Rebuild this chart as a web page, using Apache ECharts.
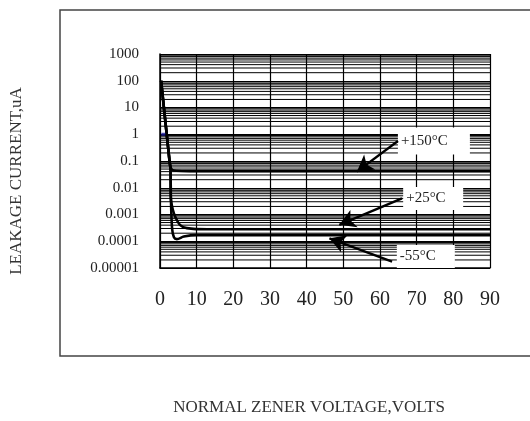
<!DOCTYPE html>
<html>
<head>
<meta charset="utf-8">
<script src="https://cdn.jsdelivr.net/npm/echarts@6/dist/echarts.min.js"></script>
<style>
  html, body { margin: 0; padding: 0; background: #fff; }
  #main { width: 530px; height: 421px; }
</style>
</head>
<body>
<div id="main"></div>
<script>
// x ticks (volts) and y ticks (uA, log scale)
const xTicks = [0, 10, 20, 30, 40, 50, 60, 70, 80, 90];
const yTickLabels = ['0.00001', '0.0001', '0.001', '0.01', '0.1', '1', '10', '100', '1000'];

// leakage current curves [volts, uA]
const curve150 = [[0.3, 100], [2.6, 0.1], [2.9, 0.058], [3.4, 0.046], [4.5, 0.043], [8, 0.042], [90, 0.042]];
const curve25 = [[0.3, 100], [2.6, 0.1], [2.85, 0.05], [2.95, 0.004], [3.5, 0.0015], [4.2, 0.0008], [5.5, 0.0004], [7.3, 0.00031], [13, 0.00028], [90, 0.00028]];
const curveM55 = [[0.3, 100], [2.6, 0.1], [2.85, 0.05], [3.0, 0.003], [3.3, 0.0003], [3.8, 0.00014], [4.6, 0.00012], [6.5, 0.00015], [10, 0.00017], [90, 0.00017]];
const stray = [[0.9, 1]];

// annotation labels: [label, box at, arrow from, arrow to]
const notes = [
  ['+150°C', [74.7, 0.56], [64.9, 0.56], [53.7, 0.04]],
  ['+25°C', [74.5, 0.004], [66, 0.004], [48.9, 0.00041]],
  ['-55°C', [72.5, 0.000027], [63.3, 0.0000173], [46.2, 0.000129]]
];
const boxSizes = [[72, 27], [60, 23], [58, 23]];

// minor log gridlines 2..9 x 10^n
const minorLines = [];
for (let e = -5; e <= 2; e++) {
  for (let m = 2; m <= 9; m++) minorLines.push(+(m * Math.pow(10, e)).toPrecision(3));
}

const font = 'Liberation Serif';
const chart = echarts.init(document.getElementById('main'));

const curveSeries = (data) => ({
  type: 'line',
  data: data,
  showSymbol: false,
  smooth: 0.3,
  lineStyle: { color: '#000', width: 2.6 },
  z: 3,
  silent: true
});

chart.setOption({
  animation: false,
  grid: { left: 160, right: 40, top: 54, bottom: 153 },
  xAxis: {
    type: 'value',
    min: xTicks[0],
    max: xTicks[xTicks.length - 1],
    interval: 10,
    axisLine: { lineStyle: { color: '#000', width: 1.5 } },
    axisTick: { show: false },
    axisLabel: { fontFamily: font, fontSize: 20, color: '#222', margin: 22 },
    splitLine: { lineStyle: { color: '#000', width: 1.2 } }
  },
  yAxis: {
    type: 'log',
    logBase: 10,
    min: 0.00001,
    max: 1000,
    interval: 1,
    axisLine: { show: true, lineStyle: { color: '#000', width: 1.5 } },
    axisTick: { show: false },
    axisLabel: {
      fontFamily: font, fontSize: 15, color: '#222', margin: 21,
      formatter: (v) => yTickLabels[Math.round(Math.log10(v)) + 5]
    },
    splitLine: { lineStyle: { color: '#000', width: 1.2 } }
  },
  graphic: [
    {
      type: 'rect', z: -1,
      shape: { x: 60, y: 10, width: 520, height: 346 },
      style: { fill: 'none', stroke: '#444', lineWidth: 1.5 }
    },
    {
      type: 'text', x: 17, y: 181, rotation: Math.PI / 2,
      style: { text: 'LEAKAGE CURRENT,uA', font: '17px "Liberation Serif"', fill: '#333', align: 'center', verticalAlign: 'middle' }
    },
    {
      type: 'text', x: 309, y: 408,
      style: { text: 'NORMAL ZENER VOLTAGE,VOLTS', font: '17px "Liberation Serif"', fill: '#333', align: 'center', verticalAlign: 'middle' }
    }
  ],
  series: [
    {
      // minor horizontal gridlines
      type: 'custom',
      data: minorLines.map((v) => [0, v]),
      silent: true,
      z: 1,
      renderItem: (params, api) => {
        const cs = params.coordSys;
        const y = api.coord([0, api.value(1)])[1];
        return {
          type: 'line',
          shape: { x1: cs.x, y1: y, x2: cs.x + cs.width, y2: y },
          style: { stroke: '#000', lineWidth: 1 }
        };
      }
    },
    curveSeries(curve150),
    curveSeries(curve25),
    curveSeries(curveM55),
    {
      type: 'scatter',
      data: stray,
      symbol: 'rect',
      symbolSize: [4, 3],
      itemStyle: { color: '#1c1c9c' },
      z: 4,
      silent: true
    },
    {
      type: 'line',
      data: [],
      silent: true,
      markPoint: {
        z: 5,
        silent: true,
        data: notes.map((n, i) => ({
          coord: n[1],
          symbol: 'rect',
          symbolSize: boxSizes[i],
          itemStyle: { color: '#fff' },
          label: {
            show: true, formatter: n[0], position: 'insideLeft', distance: 3,
            fontFamily: font, fontSize: 15, color: '#222'
          }
        }))
      },
      markLine: {
        z: 6,
        silent: true,
        symbol: ['none', 'arrow'],
        symbolSize: [14, 16],
        label: { show: false },
        lineStyle: { color: '#000', width: 2.4, type: 'solid' },
        emphasis: { disabled: true },
        data: notes.map((n) => [{ coord: n[2] }, { coord: n[3] }])
      }
    }
  ]
});
</script>
</body>
</html>
